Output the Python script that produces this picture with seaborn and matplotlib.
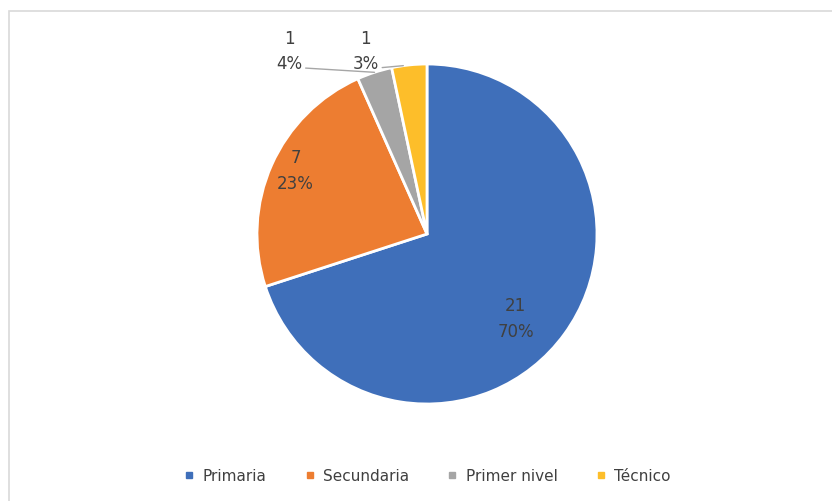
import numpy as np
import seaborn as sns
import matplotlib.pyplot as plt
from matplotlib.patches import Rectangle
from matplotlib.lines import Line2D

categories = ['Primaria', 'Secundaria', 'Primer nivel', 'Técnico']
counts = [21, 7, 1, 1]
pct_labels = ['70%', '23%', '4%', '3%']
colors = ['#3F6FBA', '#ED7D31', '#A5A5A5', '#FDBE2A']

sns.set_theme(style="white")
plt.rcParams['font.family'] = ['DejaVu Sans']
text_color = '#404040'

W, H = 832, 502
fig = plt.figure(figsize=(W / 100, H / 100), dpi=100)
ax = fig.add_axes([0, 0, 1, 1])

# pie geometry in pixels: center and radius
cx, cy, r = 427, 235, 170

wedges, _ = ax.pie(counts, colors=colors, startangle=90, counterclock=False,
                   radius=1, wedgeprops=dict(edgecolor='white', linewidth=2))
ax.set_aspect('auto')
ax.set_xlim(-cx / r, (W - cx) / r)
ax.set_ylim(-(H - cy) / r, cy / r)
ax.axis('off')

# label placement: (radius, angle shift) for inside labels, text position for outside ones
inside = {0: (0.72, -7.5), 1: (0.86, -2)}
outside = {2: (-0.81, 1.08), 3: (-0.36, 1.08)}

for i, w in enumerate(wedges):
    mid = np.deg2rad((w.theta1 + w.theta2) / 2)
    txt = f'{counts[i]}\n{pct_labels[i]}'
    if i in inside:
        rad, shift = inside[i]
        a = mid + np.deg2rad(shift)
        ax.text(rad * np.cos(a), rad * np.sin(a), txt, ha='center', va='center',
                fontsize=12, color=text_color, linespacing=1.55)
    else:
        tx, ty = outside[i]
        edge = np.deg2rad(w.theta2 - 4) if i == 3 else mid
        ax.annotate(txt, xy=(np.cos(edge), np.sin(edge)), xytext=(tx, ty),
                    ha='center', va='center', fontsize=12, color=text_color,
                    linespacing=1.55,
                    arrowprops=dict(arrowstyle='-', color='#A6A6A6', lw=1,
                                    relpos=(1.0, 0.1), shrinkA=0, shrinkB=0))

handles = [Line2D([], [], marker='s', linestyle='', markersize=5,
                  markerfacecolor=c, markeredgecolor=c) for c in colors]
fig.legend(handles, categories, loc='center', ncol=4,
           bbox_to_anchor=(427 / W, 1 - 477 / H), frameon=False,
           fontsize=11, handlelength=0.8, handletextpad=0.5, columnspacing=2.4,
           labelcolor=text_color)

# light chart border (top and left visible)
fig.patches.append(Rectangle((9 / W, -0.05), 1.1, 1 - 12 / H + 0.05,
                             transform=fig.transFigure, fill=False,
                             edgecolor='#D9D9D9', linewidth=1.2))

fig.savefig('out.png', dpi=100)
